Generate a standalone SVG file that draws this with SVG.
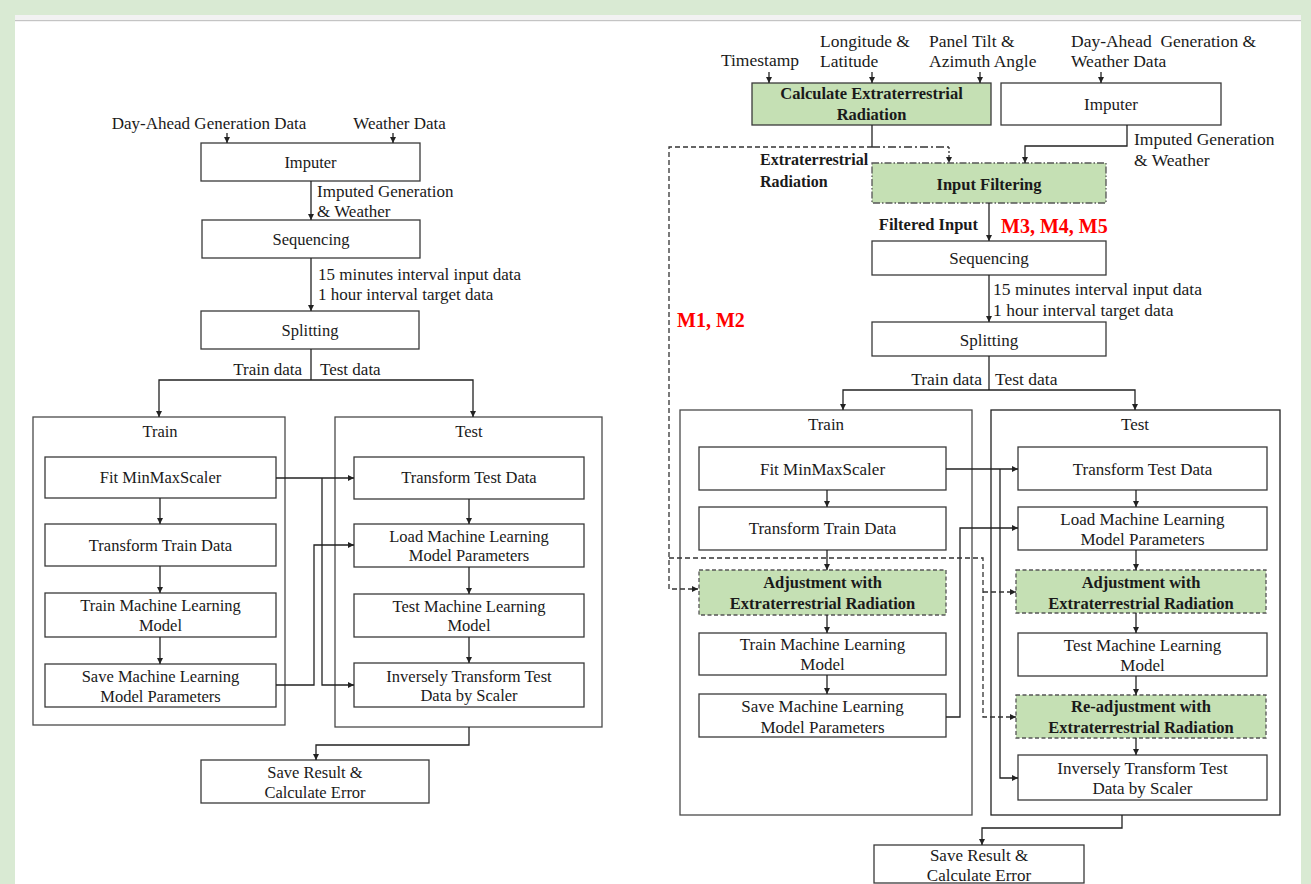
<svg xmlns="http://www.w3.org/2000/svg" width="1311" height="884" viewBox="0 0 1311 884">
<style>
text{font-family:"Liberation Serif","Times New Roman",serif;fill:#1a1a1a}
.l{font-size:16.5px;text-anchor:middle}
.lb{font-size:17px}
.r{font-size:17px;text-anchor:middle}
.rb{font-size:17.5px}
.b{font-weight:bold}
.red{font-size:20px;font-weight:bold;fill:#ff0000}
.box{fill:#fff;stroke:#3a3a3a;stroke-width:1.3}
.cont{fill:none;stroke:#4a4a4a;stroke-width:1.3}
.gd{fill:#c5e0b4;stroke:#555;stroke-width:1.3;stroke-dasharray:4,2.5}
.gdd{fill:#c5e0b4;stroke:#555;stroke-width:1.3;stroke-dasharray:7,2,1.5,2}
.gs{fill:#c5e0b4;stroke:#3a3a3a;stroke-width:1.3}
.c{fill:none;stroke:#222;stroke-width:1.3}
.cd{fill:none;stroke:#333;stroke-width:1.3;stroke-dasharray:5,3}
.cdd{fill:none;stroke:#333;stroke-width:1.3;stroke-dasharray:8,3,2,3}
.cdt{fill:none;stroke:#333;stroke-width:1.3;stroke-dasharray:2,2}
</style>
<defs>
<marker id="ah" markerUnits="userSpaceOnUse" markerWidth="7" markerHeight="7" refX="6" refY="3" orient="auto">
<path d="M0,0 L6,3 L0,6 z" fill="#222"/>
</marker>
</defs>
<rect x="0" y="0" width="1311" height="884" fill="#d9ead3"/>
<rect x="15" y="15" width="1286" height="869" fill="#fff"/>
<rect x="15" y="15" width="1286" height="5" fill="#f2f2f2"/>
<rect x="15" y="20" width="1286" height="1.2" fill="#c4c4c4"/>

<!-- LEFT DIAGRAM -->
<g id="L-inputs">
<text class="lb" x="209" y="129" text-anchor="middle">Day-Ahead Generation Data</text>
<text class="lb" x="399.5" y="129" text-anchor="middle">Weather Data</text>
</g>
<g id="L-imputer"><rect class="box" x="201" y="143" width="219" height="38"/><text class="l" x="310.5" y="168">Imputer</text></g>
<g id="L-imputed-label"><text class="lb" x="317" y="197">Imputed Generation</text><text class="lb" x="317" y="217">&amp; Weather</text></g>
<g id="L-sequencing"><rect class="box" x="202" y="220" width="218" height="38"/><text class="l" x="311" y="245">Sequencing</text></g>
<g id="L-seq-label"><text class="lb" x="318" y="280">15 minutes interval input data</text><text class="lb" x="318" y="300">1 hour interval target data</text></g>
<g id="L-splitting"><rect class="box" x="201" y="311" width="218" height="38"/><text class="l" x="310" y="336">Splitting</text></g>
<g id="L-split-label"><text class="lb" x="302" y="375" text-anchor="end">Train data</text><text class="lb" x="320" y="375">Test data</text></g>
<g id="L-train"><rect class="cont" x="33" y="417" width="252" height="308"/><text class="l" x="160" y="437">Train</text></g>
<g id="L-test"><rect class="cont" x="335" y="417" width="267" height="310"/><text class="l" x="469" y="437">Test</text></g>
<g id="L-fit"><rect class="box" x="45" y="457" width="231" height="41"/><text class="l" x="160.5" y="483">Fit MinMaxScaler</text></g>
<g id="L-transform-train"><rect class="box" x="45" y="524" width="231" height="42"/><text class="l" x="160.5" y="551">Transform Train Data</text></g>
<g id="L-train-ml"><rect class="box" x="45" y="593" width="231" height="44"/><text class="l" x="160.5" y="611">Train Machine Learning</text><text class="l" x="160.5" y="631">Model</text></g>
<g id="L-save-ml"><rect class="box" x="45" y="664" width="231" height="43"/><text class="l" x="160.5" y="682">Save Machine Learning</text><text class="l" x="160.5" y="702">Model Parameters</text></g>
<g id="L-transform-test"><rect class="box" x="354" y="457" width="230" height="42"/><text class="l" x="469" y="483">Transform Test Data</text></g>
<g id="L-load-ml"><rect class="box" x="354" y="524" width="230" height="43"/><text class="l" x="469" y="542">Load Machine Learning</text><text class="l" x="469" y="561">Model Parameters</text></g>
<g id="L-test-ml"><rect class="box" x="354" y="594" width="230" height="43"/><text class="l" x="469" y="612">Test Machine Learning</text><text class="l" x="469" y="631">Model</text></g>
<g id="L-inverse"><rect class="box" x="354" y="663" width="230" height="44"/><text class="l" x="469" y="682">Inversely Transform Test</text><text class="l" x="469" y="701">Data by Scaler</text></g>
<g id="L-result"><rect class="box" x="201" y="760" width="228" height="43"/><text class="l" x="315" y="778">Save Result &amp;</text><text class="l" x="315" y="798">Calculate Error</text></g>

<!-- RIGHT DIAGRAM -->
<g id="R-inputs">
<text class="rb" x="760" y="66" text-anchor="middle">Timestamp</text>
<text class="rb" x="820" y="47">Longitude &amp;</text><text class="rb" x="820" y="67">Latitude</text>
<text class="rb" x="929" y="47">Panel Tilt &amp;</text><text class="rb" x="929" y="67">Azimuth Angle</text>
<text class="rb" x="1071" y="47" style="white-space:pre">Day-Ahead  Generation &amp;</text><text class="rb" x="1071" y="67">Weather Data</text>
</g>
<g id="R-calc"><rect class="gs" x="752" y="83" width="239" height="42"/><text class="r b" x="871.5" y="99" style="font-size:16.5px">Calculate Extraterrestrial</text><text class="r b" x="871.5" y="120" style="font-size:16.5px">Radiation</text></g>
<g id="R-imputer"><rect class="box" x="1001" y="83" width="220" height="42"/><text class="r" x="1111" y="110">Imputer</text></g>
<g id="R-imputed-label"><text class="rb" x="1134" y="145">Imputed Generation</text><text class="rb" x="1134" y="166">&amp; Weather</text></g>
<g id="R-ext-label"><text class="rb b" x="760" y="165" style="font-size:16px">Extraterrestrial</text><text class="rb b" x="760" y="187" style="font-size:16px">Radiation</text></g>
<g id="R-filter"><rect class="gdd" x="872" y="163" width="234" height="40"/><text class="r b" x="989" y="190" style="font-size:16.5px">Input Filtering</text></g>
<g id="R-filter-label"><text class="rb b" x="978" y="230" text-anchor="end" style="font-size:16.5px">Filtered Input</text><text class="red" x="1001" y="233">M3, M4, M5</text></g>
<g id="R-m12"><text class="red" x="677" y="327">M1, M2</text></g>
<g id="R-sequencing"><rect class="box" x="872" y="241" width="234" height="34"/><text class="r" x="989" y="264">Sequencing</text></g>
<g id="R-seq-label"><text class="rb" x="993" y="295">15 minutes interval input data</text><text class="rb" x="993" y="316">1 hour interval target data</text></g>
<g id="R-splitting"><rect class="box" x="872" y="322" width="234" height="34"/><text class="r" x="989" y="346">Splitting</text></g>
<g id="R-split-label"><text class="rb" x="982" y="385" text-anchor="end">Train data</text><text class="rb" x="995" y="385">Test data</text></g>
<g id="R-train"><rect class="cont" x="680" y="410" width="292" height="405"/><text class="r" x="826" y="430">Train</text></g>
<g id="R-test"><rect class="cont" x="991" y="410" width="289" height="405" style="stroke:#222"/><text class="r" x="1135" y="430">Test</text></g>
<g id="R-fit"><rect class="box" x="699" y="447" width="247" height="43"/><text class="r" x="822.5" y="475">Fit MinMaxScaler</text></g>
<g id="R-transform-train"><rect class="box" x="699" y="507" width="247" height="43"/><text class="r" x="822.5" y="534">Transform Train Data</text></g>
<g id="R-adj-train"><rect class="gd" x="699" y="570" width="247" height="45"/><text class="r b" x="822.5" y="588" style="font-size:16.5px">Adjustment with</text><text class="r b" x="822.5" y="609" style="font-size:16.5px">Extraterrestrial Radiation</text></g>
<g id="R-train-ml"><rect class="box" x="699" y="633" width="247" height="42"/><text class="r" x="822.5" y="650">Train Machine Learning</text><text class="r" x="822.5" y="670">Model</text></g>
<g id="R-save-ml"><rect class="box" x="699" y="694" width="247" height="43"/><text class="r" x="822.5" y="712">Save Machine Learning</text><text class="r" x="822.5" y="733">Model Parameters</text></g>
<g id="R-transform-test"><rect class="box" x="1018" y="447" width="249" height="43"/><text class="r" x="1142.5" y="475">Transform Test Data</text></g>
<g id="R-load-ml"><rect class="box" x="1018" y="507" width="249" height="43"/><text class="r" x="1142.5" y="525">Load Machine Learning</text><text class="r" x="1142.5" y="545">Model Parameters</text></g>
<g id="R-adj-test"><rect class="gd" x="1016" y="570" width="250" height="43"/><text class="r b" x="1141" y="588" style="font-size:16.5px">Adjustment with</text><text class="r b" x="1141" y="609" style="font-size:16.5px">Extraterrestrial Radiation</text></g>
<g id="R-test-ml"><rect class="box" x="1018" y="633" width="249" height="43"/><text class="r" x="1142.5" y="651">Test Machine Learning</text><text class="r" x="1142.5" y="671">Model</text></g>
<g id="R-readj"><rect class="gd" x="1016" y="695" width="250" height="43"/><text class="r b" x="1141" y="712" style="font-size:16.5px">Re-adjustment with</text><text class="r b" x="1141" y="733" style="font-size:16.5px">Extraterrestrial Radiation</text></g>
<g id="R-inverse"><rect class="box" x="1018" y="755" width="249" height="45"/><text class="r" x="1142.5" y="774">Inversely Transform Test</text><text class="r" x="1142.5" y="794">Data by Scaler</text></g>
<g id="R-result"><rect class="box" x="874" y="845" width="210" height="38"/><text class="r" x="979" y="861">Save Result &amp;</text><text class="r" x="979" y="881">Calculate Error</text></g>

<g id="connectors">
<!-- left -->
<path class="c" d="M227,133 V143" marker-end="url(#ah)"/>
<path class="c" d="M393,133 V143" marker-end="url(#ah)"/>
<path class="c" d="M311,181 V220" marker-end="url(#ah)"/>
<path class="c" d="M311,258 V311" marker-end="url(#ah)"/>
<path class="c" d="M311,349 V380"/>
<path class="c" d="M311,380 H159 V417" marker-end="url(#ah)"/>
<path class="c" d="M311,380 H473 V417" marker-end="url(#ah)"/>
<path class="c" d="M160,498 V524" marker-end="url(#ah)"/>
<path class="c" d="M160,566 V593" marker-end="url(#ah)"/>
<path class="c" d="M160,637 V664" marker-end="url(#ah)"/>
<path class="c" d="M469,499 V524" marker-end="url(#ah)"/>
<path class="c" d="M469,567 V594" marker-end="url(#ah)"/>
<path class="c" d="M469,637 V663" marker-end="url(#ah)"/>
<path class="c" d="M276,478 H354" marker-end="url(#ah)"/>
<path class="c" d="M322,478 V685 H354" marker-end="url(#ah)"/>
<path class="c" d="M276,685 H314 V545 H354" marker-end="url(#ah)"/>
<path class="c" d="M469,727 V745 H316 V760" marker-end="url(#ah)"/>
<!-- right -->
<path class="c" d="M769,72 V83" marker-end="url(#ah)"/>
<path class="c" d="M872,72 V83" marker-end="url(#ah)"/>
<path class="c" d="M980,72 V83" marker-end="url(#ah)"/>
<path class="c" d="M1101,72 V83" marker-end="url(#ah)"/>
<path class="c" d="M872,125 V147"/>
<path class="cd" d="M872,147 H669 V589 H698" marker-end="url(#ah)"/>
<path class="cdd" d="M872,147 H949"/>
<path class="cdt" d="M949,147 V163" marker-end="url(#ah)"/>
<path class="c" d="M1127,125 V146 H1025 V163" marker-end="url(#ah)"/>
<path class="c" d="M989,203 V241" marker-end="url(#ah)"/>
<path class="c" d="M989,275 V322" marker-end="url(#ah)"/>
<path class="c" d="M989,356 V390"/>
<path class="c" d="M989,390 H843 V410" marker-end="url(#ah)"/>
<path class="c" d="M989,390 H1135 V410" marker-end="url(#ah)"/>
<path class="c" d="M827,490 V507" marker-end="url(#ah)"/>
<path class="c" d="M827,550 V570" marker-end="url(#ah)"/>
<path class="c" d="M827,615 V633" marker-end="url(#ah)"/>
<path class="c" d="M827,675 V694" marker-end="url(#ah)"/>
<path class="c" d="M1136,490 V507" marker-end="url(#ah)"/>
<path class="c" d="M1136,550 V570" marker-end="url(#ah)"/>
<path class="c" d="M1136,613 V633" marker-end="url(#ah)"/>
<path class="c" d="M1136,676 V695" marker-end="url(#ah)"/>
<path class="c" d="M1136,738 V755" marker-end="url(#ah)"/>
<path class="c" d="M946,469 H1018" marker-end="url(#ah)"/>
<path class="c" d="M1000,469 V778 H1018" marker-end="url(#ah)"/>
<path class="c" d="M946,717 H960 V528 H1018" marker-end="url(#ah)"/>
<path class="cd" d="M669,558 H983 V717 H1016" marker-end="url(#ah)"/>
<path class="cd" d="M983,592 H1016" marker-end="url(#ah)"/>
<path class="c" d="M1122,815 V828 H982 V845" marker-end="url(#ah)"/>
</g>
</svg>
